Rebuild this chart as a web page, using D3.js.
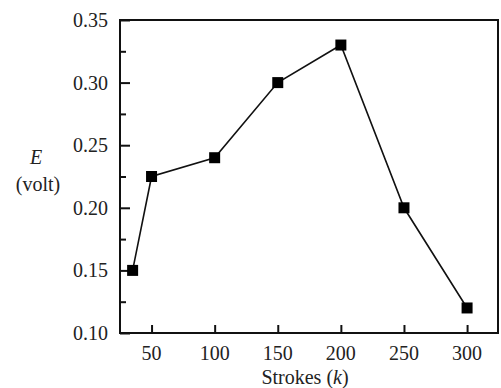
<!DOCTYPE html>
<html>
<head>
<meta charset="utf-8">
<script src="https://cdn.jsdelivr.net/npm/d3@7/dist/d3.min.js"></script>
<style>
  body { margin: 0; background: #fff; }
</style>
</head>
<body>
<div id="root"></div>
<script>
var strokes = [35, 50, 100, 150, 200, 250, 300];
var voltage = [0.15, 0.225, 0.24, 0.30, 0.33, 0.20, 0.12];
var xTicks = [50, 100, 150, 200, 250, 300];
var yTicks = [0.10, 0.15, 0.20, 0.25, 0.30, 0.35];
var yMinor = [0.125, 0.175, 0.225, 0.275, 0.325];

var w = 501, h = 388;
var plotLeft = 120, plotRight = 498, plotTop = 20, plotBottom = 333;
var font = "'Times New Roman', 'Liberation Serif', 'DejaVu Serif', serif";

var svg = d3.select('#root').append('svg')
  .attr('width', w)
  .attr('height', h)
  .attr('font-family', font);

var x = d3.scaleLinear().domain([25, 324.5]).range([plotLeft, plotRight]);
var y = d3.scaleLinear().domain([0.10, 0.35]).range([plotBottom, plotTop]);

// frame
svg.append('rect')
  .attr('x', plotLeft).attr('y', plotTop)
  .attr('width', plotRight - plotLeft).attr('height', plotBottom - plotTop)
  .attr('fill', 'none').attr('stroke', '#111').attr('stroke-width', 2);

// y axis ticks (inward)
var yAxis = svg.append('g')
  .attr('transform', 'translate(' + plotLeft + ',0)')
  .call(d3.axisRight(y).tickValues(yTicks).tickSize(10).tickFormat(''));
yAxis.select('.domain').remove();
yAxis.selectAll('line').attr('stroke', '#111').attr('stroke-width', 2);

var yAxisMinor = svg.append('g')
  .attr('transform', 'translate(' + plotLeft + ',0)')
  .call(d3.axisRight(y).tickValues(yMinor).tickSize(6).tickFormat(''));
yAxisMinor.select('.domain').remove();
yAxisMinor.selectAll('line').attr('stroke', '#111').attr('stroke-width', 2);

svg.append('g').selectAll('text')
  .data(yTicks)
  .enter()
  .append('text')
  .attr('x', plotLeft - 12)
  .attr('y', function(d) { return y(d) + 7; })
  .attr('text-anchor', 'end')
  .attr('font-family', font)
  .attr('fill', '#222')
  .style('font-size', '20px')
  .text(function(d) { return d3.format('.2f')(d); });

// x axis ticks (inward)
var xAxis = svg.append('g')
  .attr('transform', 'translate(0,' + plotBottom + ')')
  .call(d3.axisTop(x).tickValues(xTicks).tickSize(8).tickFormat(''));
xAxis.select('.domain').remove();
xAxis.selectAll('line').attr('stroke', '#111').attr('stroke-width', 2);

svg.append('g').selectAll('text')
  .data(xTicks)
  .enter()
  .append('text')
  .attr('x', function(d) { return x(d); })
  .attr('y', plotBottom + 27)
  .attr('text-anchor', 'middle')
  .attr('font-family', font)
  .attr('fill', '#222')
  .style('font-size', '20px')
  .text(function(d) { return d; });

// axis titles
var xt = svg.append('text')
  .attr('x', 305)
  .attr('y', 384)
  .attr('text-anchor', 'middle')
  .attr('font-family', font)
  .attr('fill', '#222')
  .style('font-size', '20px');
xt.append('tspan').text('Strokes (');
xt.append('tspan').style('font-style', 'italic').text('k');
xt.append('tspan').text(')');

svg.append('text')
  .attr('x', 36)
  .attr('y', 164)
  .attr('text-anchor', 'middle')
  .attr('font-family', font)
  .attr('fill', '#222')
  .style('font-size', '20px')
  .style('font-style', 'italic')
  .text('E');
svg.append('text')
  .attr('x', 38)
  .attr('y', 191)
  .attr('text-anchor', 'middle')
  .attr('font-family', font)
  .attr('fill', '#222')
  .style('font-size', '20px')
  .text('(volt)');

// line
var pts = strokes.map(function(s, i) { return [s, voltage[i]]; });
svg.append('path')
  .datum(pts)
  .attr('fill', 'none')
  .attr('stroke', '#111')
  .attr('stroke-width', 1.6)
  .attr('d', d3.line()
    .x(function(d) { return x(d[0]); })
    .y(function(d) { return y(d[1]); }));

// markers
var ms = 11;
svg.append('g').selectAll('rect')
  .data(pts)
  .enter()
  .append('rect')
  .attr('x', function(d) { return x(d[0]) - ms / 2; })
  .attr('y', function(d) { return y(d[1]) - ms / 2; })
  .attr('width', ms)
  .attr('height', ms)
  .attr('fill', '#000');
</script>
</body>
</html>
